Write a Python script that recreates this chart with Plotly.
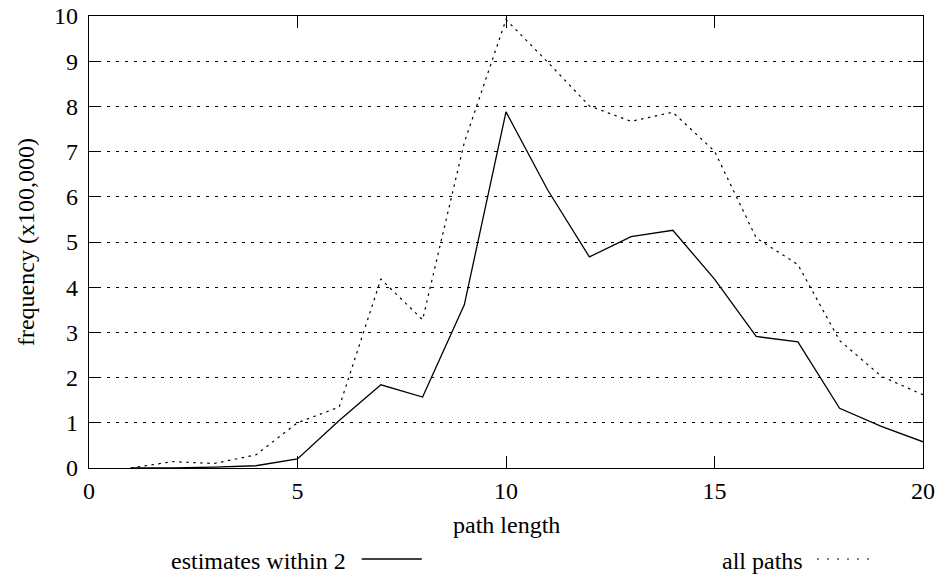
import plotly.graph_objects as go

path_length = list(range(1, 21))
estimates_within_2 = [0.0, 0.0, 0.02, 0.05, 0.2, 1.05, 1.84, 1.57, 3.61, 7.88,
                      6.15, 4.67, 5.12, 5.26, 4.18, 2.91, 2.79, 1.32, 0.92, 0.58]
all_paths = [0.0, 0.14, 0.1, 0.29, 1.0, 1.35, 4.18, 3.28, 7.2, 9.92,
             8.98, 8.01, 7.67, 7.87, 7.01, 5.09, 4.5, 2.82, 2.03, 1.62]

x_ticks = [0, 5, 10, 15, 20]
y_ticks = list(range(0, 11))

FONT = "Liberation Serif, Times New Roman, serif"
FS = 24

fig = go.Figure()
fig.add_trace(go.Scatter(x=path_length, y=estimates_within_2, mode="lines",
                         line=dict(color="black", width=1.3), showlegend=False))
fig.add_trace(go.Scatter(x=path_length, y=all_paths, mode="lines",
                         line=dict(color="black", width=1.2, dash="2.5px,4.5px"), showlegend=False))

fig.update_layout(
    width=944, height=575,
    margin=dict(l=89, r=21, t=16, b=107),
    paper_bgcolor="white", plot_bgcolor="white",
    font=dict(family=FONT, size=FS, color="black"),
    xaxis=dict(range=[0, 20], tickvals=x_ticks, ticks="inside", ticklen=12,
               tickcolor="black", showgrid=False, zeroline=False, automargin=False,
               showline=True, linecolor="black", linewidth=1.3, mirror="ticks",
               ticklabelstandoff=1, tickfont=dict(size=FS)),
    yaxis=dict(range=[0, 10], tickvals=y_ticks, ticks="inside", ticklen=10,
               tickcolor="black", showgrid=True, gridcolor="black", gridwidth=1,
               griddash="3px,6px", zeroline=False, automargin=False,
               showline=True, linecolor="black", linewidth=1.3, mirror="ticks",
               ticklabelstandoff=5, tickfont=dict(size=FS)),
)

# axis titles
fig.add_annotation(xref="paper", yref="paper", x=0.5, y=-0.1261,
                   text="path length", showarrow=False,
                   xanchor="center", yanchor="middle", font=dict(size=FS))
fig.add_annotation(xref="paper", yref="paper", x=-0.0755, y=0.5,
                   text="frequency (x100,000)", showarrow=False, textangle=-90,
                   xanchor="center", yanchor="middle", font=dict(size=FS))

# legend (text left of sample, as in the reference)
fig.add_annotation(xref="paper", yref="paper", x=0.3106, y=-0.2058,
                   text="estimates within 2", showarrow=False,
                   xanchor="right", yanchor="middle", font=dict(size=FS))
fig.add_shape(type="line", xref="paper", yref="paper", x0=0.327, x1=0.399,
              y0=-0.2013, y1=-0.2013, line=dict(color="black", width=1.3))
fig.add_annotation(xref="paper", yref="paper", x=0.8585, y=-0.2058,
                   text="all paths", showarrow=False,
                   xanchor="right", yanchor="middle", font=dict(size=FS))
fig.add_shape(type="line", xref="paper", yref="paper", x0=0.8729, x1=0.9365,
              y0=-0.2013, y1=-0.2013, line=dict(color="black", width=1, dash="2px,8px"))

fig.write_html("out.html", config={"displayModeBar": False},
               post_script="document.body.style.margin='0';document.body.style.overflow='hidden';")
